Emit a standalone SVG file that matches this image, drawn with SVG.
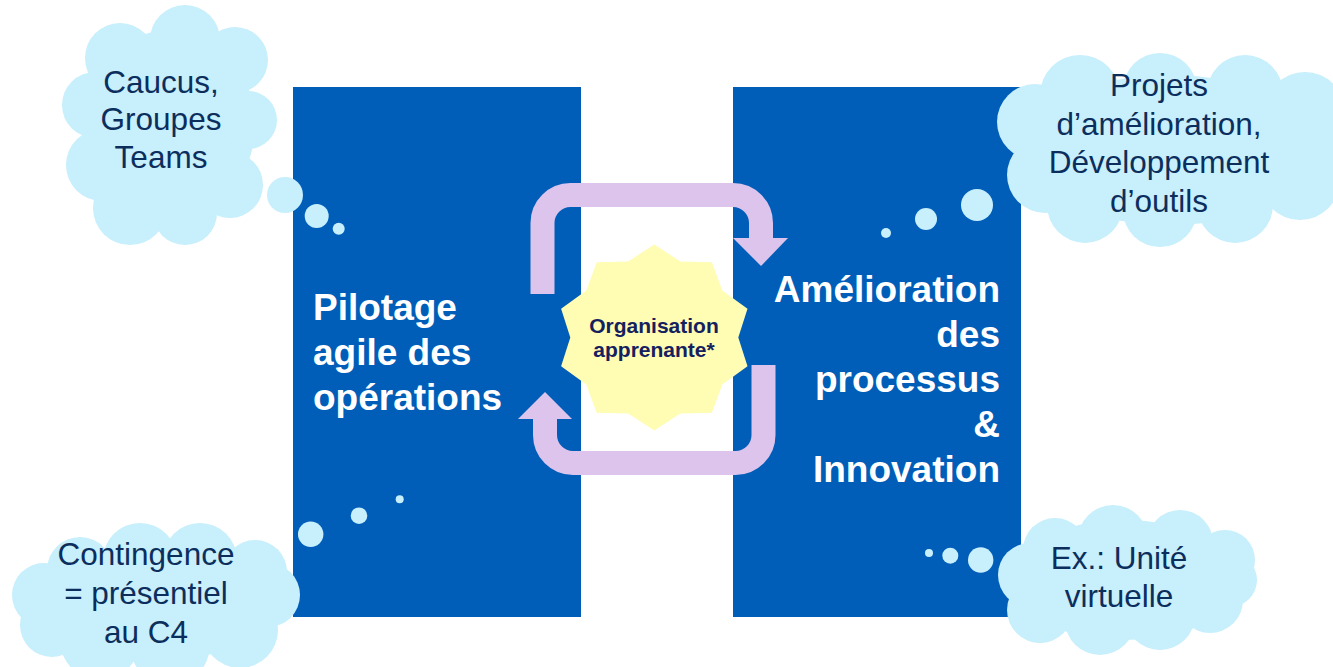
<svg xmlns="http://www.w3.org/2000/svg" width="1333" height="667" viewBox="0 0 1333 667">
<style>
.blk{fill:#005EB8}
.cl{fill:#C7EFFC}
.arr{fill:none;stroke:#DCC4EC;stroke-width:24}
.ah{fill:#DCC4EC}
.big{font-family:"Liberation Sans",Arial,sans-serif;font-weight:bold;font-size:37px;fill:#FFFFFF}
.ct{font-family:"Liberation Sans",Arial,sans-serif;font-size:31.5px;fill:#0C2E5C;text-anchor:middle}
.st{font-family:"Liberation Sans",Arial,sans-serif;font-weight:bold;font-size:21px;fill:#14215E;text-anchor:middle}
</style>
<rect width="1333" height="667" fill="#FFFFFF"/>
<g id="pilotage">
<rect class="blk" x="293" y="87" width="288" height="530"/>
<text class="big" x="313"><tspan x="313" y="320">Pilotage</tspan><tspan x="313" y="365">agile des</tspan><tspan x="313" y="410">opérations</tspan></text>
</g>
<g id="amelioration">
<rect class="blk" x="733" y="87" width="288" height="530"/>
<text class="big" text-anchor="end"><tspan x="1000" y="302">Amélioration</tspan><tspan x="1000" y="347">des</tspan><tspan x="1000" y="392">processus</tspan><tspan x="1000" y="437">&amp;</tspan><tspan x="1000" y="482">Innovation</tspan></text>
</g>
<g id="connectors">
<path class="arr" d="M542.5,294 V223 A28,28 0 0 1 570.5,195 H733 A28,28 0 0 1 761,223 V239"/>
<polygon class="ah" points="733,238 788,238 761,266"/>
<path class="arr" d="M763.5,365 V435 A28,28 0 0 1 735.5,463 H573 A28,28 0 0 1 545,435 V418"/>
<polygon class="ah" points="518,419 572,419 545,392"/>
</g>
<g id="organisation">
<polygon fill="#FFFCB3" points="654.3,244.5 680.3,261.4 711.9,262.3 722.3,290.5 747.5,308.8 738.3,337.5 747.5,366.2 722.3,384.5 711.9,412.7 680.3,413.6 654.3,430.5 628.3,413.6 596.7,412.7 586.3,384.5 561.1,366.2 570.3,337.5 561.1,308.8 586.3,290.5 596.7,262.3 628.3,261.4"/>
<text class="st"><tspan x="654" y="333">Organisation</tspan><tspan x="654" y="357">apprenante*</tspan></text>
</g>
<g id="cloud-caucus">
<ellipse class="cl" cx="170" cy="125" rx="85" ry="95"/>
<circle class="cl" cx="120" cy="58" r="35"/>
<circle class="cl" cx="185" cy="40" r="35"/>
<circle class="cl" cx="235" cy="60" r="33"/>
<circle class="cl" cx="95" cy="105" r="33"/>
<circle class="cl" cx="102" cy="165" r="36"/>
<circle class="cl" cx="130" cy="208" r="37"/>
<circle class="cl" cx="185" cy="213" r="32"/>
<circle class="cl" cx="230" cy="185" r="33"/>
<circle class="cl" cx="248" cy="120" r="29"/>
<circle class="cl" cx="285" cy="195" r="18"/>
<circle class="cl" cx="316.7" cy="216" r="12"/>
<circle class="cl" cx="338.7" cy="228.7" r="6"/>
<text class="ct"><tspan x="161" y="93">Caucus,</tspan><tspan x="161" y="130">Groupes</tspan><tspan x="161" y="168">Teams</tspan></text>
</g>
<g id="cloud-projets">
<ellipse class="cl" cx="1170" cy="150" rx="150" ry="75"/>
<circle class="cl" cx="1080" cy="95" r="40"/>
<circle class="cl" cx="1160" cy="90" r="37"/>
<circle class="cl" cx="1245" cy="93" r="38"/>
<circle class="cl" cx="1305" cy="112" r="40"/>
<circle class="cl" cx="1035" cy="122" r="38"/>
<circle class="cl" cx="1045" cy="175" r="38"/>
<circle class="cl" cx="1085" cy="205" r="38"/>
<circle class="cl" cx="1160" cy="210" r="37"/>
<circle class="cl" cx="1235" cy="205" r="38"/>
<circle class="cl" cx="1300" cy="180" r="40"/>
<circle class="cl" cx="1330" cy="145" r="40"/>
<circle class="cl" cx="977" cy="205" r="16"/>
<circle class="cl" cx="926" cy="219" r="11"/>
<circle class="cl" cx="886" cy="233" r="5"/>
<text class="ct"><tspan x="1159" y="96">Projets</tspan><tspan x="1159" y="135">d’amélioration,</tspan><tspan x="1159" y="173">Développement</tspan><tspan x="1159" y="212">d’outils</tspan></text>
</g>
<g id="cloud-contingence">
<ellipse class="cl" cx="155" cy="605" rx="125" ry="55"/>
<circle class="cl" cx="80" cy="570" r="33"/>
<circle class="cl" cx="140" cy="560" r="37"/>
<circle class="cl" cx="200" cy="560" r="37"/>
<circle class="cl" cx="255" cy="572" r="32"/>
<circle class="cl" cx="44" cy="595" r="32"/>
<circle class="cl" cx="52" cy="625" r="32"/>
<circle class="cl" cx="268" cy="595" r="32"/>
<circle class="cl" cx="100" cy="640" r="40"/>
<circle class="cl" cx="170" cy="645" r="40"/>
<circle class="cl" cx="240" cy="630" r="38"/>
<circle class="cl" cx="310.7" cy="534.3" r="12.7"/>
<circle class="cl" cx="359" cy="515.7" r="8.3"/>
<circle class="cl" cx="399.7" cy="499.3" r="4"/>
<text class="ct"><tspan x="146" y="565">Contingence</tspan><tspan x="146" y="604">= présentiel</tspan><tspan x="146" y="643">au C4</tspan></text>
</g>
<g id="cloud-unite">
<ellipse class="cl" cx="1125" cy="580" rx="115" ry="60"/>
<circle class="cl" cx="1055" cy="550" r="32"/>
<circle class="cl" cx="1113" cy="540" r="35"/>
<circle class="cl" cx="1180" cy="543" r="33"/>
<circle class="cl" cx="1225" cy="560" r="30"/>
<circle class="cl" cx="1030" cy="575" r="32"/>
<circle class="cl" cx="1040" cy="610" r="33"/>
<circle class="cl" cx="1100" cy="620" r="35"/>
<circle class="cl" cx="1160" cy="615" r="35"/>
<circle class="cl" cx="1210" cy="600" r="33"/>
<circle class="cl" cx="1230" cy="580" r="27"/>
<circle class="cl" cx="980.7" cy="560" r="12.7"/>
<circle class="cl" cx="950.3" cy="555.7" r="8"/>
<circle class="cl" cx="929" cy="553" r="4"/>
<text class="ct"><tspan x="1119" y="569">Ex.: Unité</tspan><tspan x="1119" y="607">virtuelle</tspan></text>
</g>
</svg>
